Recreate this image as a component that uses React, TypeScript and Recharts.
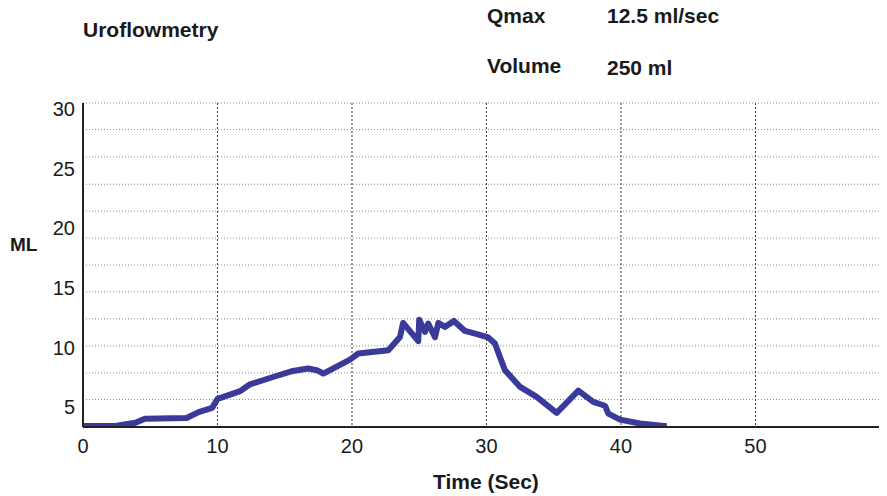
import { CartesianGrid, Line, LineChart, XAxis, YAxis } from "recharts";

// flow curve (time in sec, flow on the chart's ML scale)
const times = [
  0, 2.5, 3.9, 4.6, 7.7, 8.6, 9.6, 10.0, 11.15, 11.67, 12.42, 14.13, 15.61, 16.73, 17.38,
  17.87, 19.85, 20.47, 22.7, 23.57, 23.8, 24.93, 25.0, 25.43, 25.67, 26.17, 26.42, 26.91,
  27.58, 28.4, 29.29, 30.13, 30.63, 31.0, 31.38, 32.5, 33.73, 35.22, 36.83, 37.94, 38.81,
  39.06, 39.93, 41.41, 43.4,
];
const flow = [
  3.43, 3.45, 3.7, 4.05, 4.1, 4.6, 4.95, 5.7, 6.15, 6.35, 6.93, 7.54, 8.05, 8.25, 8.11,
  7.83, 9.0, 9.51, 9.78, 10.9, 12.07, 10.54, 12.34, 11.32, 12.02, 10.87, 12.07, 11.74,
  12.24, 11.4, 11.13, 10.85, 10.35, 9.22, 8.1, 6.71, 5.87, 4.54, 6.39, 5.45, 5.13, 4.47,
  3.97, 3.64, 3.41,
];

const xTicks = [0, 10, 20, 30, 40, 50];
const yTicks = [5, 10, 15, 20, 25, 30];
const gridTicks = [5.65, 7.88, 10.15, 12.41, 14.68, 16.92, 19.18, 21.44, 23.69, 25.98, 28.27];
const yDomain: [number, number] = [3.35, 30.5];
const xDomain: [number, number] = [0, 59.78];

const data = times.map((t, i) => ({ t, v: flow[i] }));

const font = '"Liberation Sans", Arial, Helvetica, sans-serif';

function Txt({ x, y, size, children }: { x: number; y: number; size: number; children: string }) {
  return (
    <div
      style={{
        position: "absolute",
        left: x,
        top: y,
        fontSize: size,
        lineHeight: `${size}px`,
        fontWeight: "bold",
        fontFamily: font,
        color: "#1a1a1a",
        whiteSpace: "nowrap",
      }}
    >
      {children}
    </div>
  );
}

export default function App() {
  return (
    <div
      style={{
        position: "relative",
        width: 887,
        height: 496,
        margin: "-8px -8px 0 -8px",
        background: "#fff",
      }}
    >
      <LineChart
        width={887}
        height={496}
        data={data}
        margin={{ top: 103, right: 0, left: 0, bottom: 0 }}
        style={{ fontFamily: font }}
      >
        <CartesianGrid yAxisId="grid" vertical={false} stroke="#8a8a8a" strokeDasharray="1 2" />
        <CartesianGrid horizontal={false} stroke="#333" strokeDasharray="2 2" />
        <XAxis
          dataKey="t"
          type="number"
          domain={xDomain}
          ticks={xTicks}
          interval={0}
          allowDataOverflow
          height={69}
          tickSize={0}
          tickMargin={12}
          axisLine={{ stroke: "#222", strokeWidth: 2 }}
          tick={{ fill: "#1a1a1a", fontSize: 20 }}
        />
        <XAxis
          xAxisId="top"
          orientation="top"
          dataKey="t"
          type="number"
          domain={xDomain}
          height={0}
          tick={false}
          tickLine={false}
          axisLine={{ stroke: "#222", strokeWidth: 2 }}
        />
        <YAxis
          yAxisId="grid"
          type="number"
          domain={yDomain}
          ticks={gridTicks}
          interval={0}
          allowDataOverflow
          hide
        />
        <YAxis
          type="number"
          domain={yDomain}
          ticks={yTicks}
          interval={0}
          allowDataOverflow
          width={83}
          tickSize={0}
          tickMargin={8}
          axisLine={{ stroke: "#222", strokeWidth: 2 }}
          tick={{ fill: "#1a1a1a", fontSize: 20 }}
        />
        <Line
          dataKey="v"
          type="linear"
          stroke="#3a3a9a"
          strokeWidth={6}
          strokeLinejoin="round"
          dot={false}
          activeDot={false}
          isAnimationActive={false}
        />
      </LineChart>
      <Txt x={83} y={19} size={21}>Uroflowmetry</Txt>
      <Txt x={487} y={5} size={21}>Qmax</Txt>
      <Txt x={607} y={5} size={21}>12.5 ml/sec</Txt>
      <Txt x={487} y={55} size={21}>Volume</Txt>
      <Txt x={607} y={57} size={21}>250 ml</Txt>
      <Txt x={10} y={235} size={19}>ML</Txt>
      <Txt x={433} y={471} size={21}>Time (Sec)</Txt>
    </div>
  );
}
